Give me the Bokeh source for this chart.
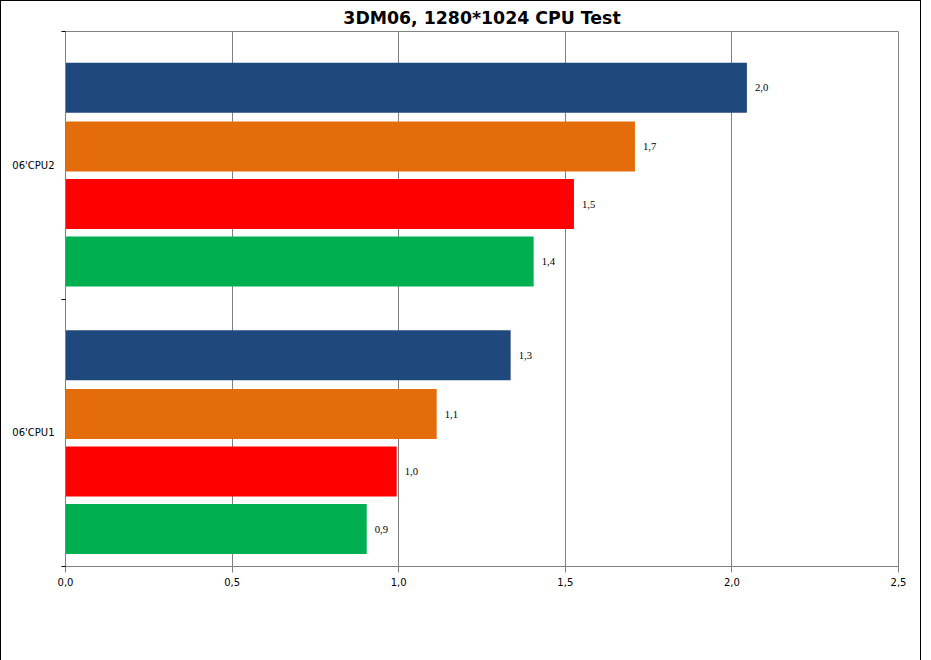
from bokeh.plotting import figure
from bokeh.models import ColumnDataSource, LabelSet, Legend, LegendItem, FixedTicker, Range1d
from bokeh.embed import file_html
from bokeh.resources import INLINE

groups = ["06'CPU1", "06'CPU2"]
series = ["Q9550 (2.83GHz)/X48, HD5850", "Ci5-650 (3.2GHz)/P55, HD5830",
          "Ci3-530 (2.93GHz)/H55, HD5670", "E8400(3.00GHz), HD 4850"]
colors = ["#1F497D", "#E46C0A", "#FF0000", "#00B050"]
values = {
    series[0]: [1.336, 2.045],
    series[1]: [1.114, 1.709],
    series[2]: [0.994, 1.526],
    series[3]: [0.904, 1.405],
}
offsets = [0.29, 0.07, -0.145, -0.36]
bar_h = 0.187

p = figure(frame_width=833, frame_height=535, output_backend="svg", toolbar_location=None,
           x_range=Range1d(0, 2.5), y_range=Range1d(0, 2),
           min_border_left=64, min_border_right=22, min_border_top=10, min_border_bottom=10)
p.styles = {"border": "1px solid #000"}
p.title.text = "3DM06, 1280*1024 CPU Test"
p.title.align = "center"
p.title.text_font = "DejaVu Sans"
p.title.text_font_size = "13pt"
p.title.text_font_style = "bold"
p.title.text_color = "black"
p.title.standoff = 8
p.outline_line_color = "#808080"

items = []
for s, c, off in zip(series, colors, offsets):
    vals = values[s]
    ys = [i + 0.5 + off for i in range(len(groups))]
    src = ColumnDataSource(dict(y=ys, v=vals,
                                lab=[f"{v:.1f}".replace(".", ",") for v in vals]))
    r = p.hbar(y="y", right="v", left=0, height=bar_h, source=src, fill_color=c, line_color=None)
    p.add_layout(LabelSet(x="v", y="y", text="lab", source=src, x_offset=8, y_offset=0,
                          text_baseline="middle", text_font="DejaVu Sans", text_font_size="8pt",
                          text_color="black"))
    items.append(LegendItem(label=s, renderers=[r]))

p.xaxis.ticker = FixedTicker(ticks=[0, 0.5, 1.0, 1.5, 2.0, 2.5])
p.xaxis.major_label_overrides = {0: "0,0", 0.5: "0,5", 1.0: "1,0", 1.5: "1,5", 2.0: "2,0", 2.5: "2,5"}
p.xaxis.minor_tick_line_color = None
p.xgrid.ticker = FixedTicker(ticks=[0.5, 1.0, 1.5, 2.0, 2.5])
p.xgrid.grid_line_color = "#808080"
p.ygrid.grid_line_color = None
p.yaxis.ticker = FixedTicker(ticks=[0.5, 1.5], minor_ticks=[0, 1, 2])
p.yaxis.major_label_overrides = {0.5: groups[0], 1.5: groups[1]}
p.yaxis.major_tick_line_color = None
p.yaxis.minor_tick_out = 4
p.yaxis.minor_tick_in = 0
for ax in (p.xaxis, p.yaxis):
    ax.major_label_text_font = "DejaVu Sans"
    ax.major_label_text_font_size = "7.5pt"
    ax.major_label_text_color = "black"
    ax.axis_line_color = "#808080"
p.xaxis.major_tick_line_color = "#808080"

leg = Legend(items=items, orientation="horizontal", border_line_color=None,
             label_text_font="DejaVu Sans", label_text_font_size="7.5pt",
             label_text_color="black",
             glyph_width=7, glyph_height=7, spacing=24, margin=6, padding=6,
             label_standoff=4, location="center")
p.add_layout(leg, "below")

open("out.html", "w").write(file_html(p, INLINE))
